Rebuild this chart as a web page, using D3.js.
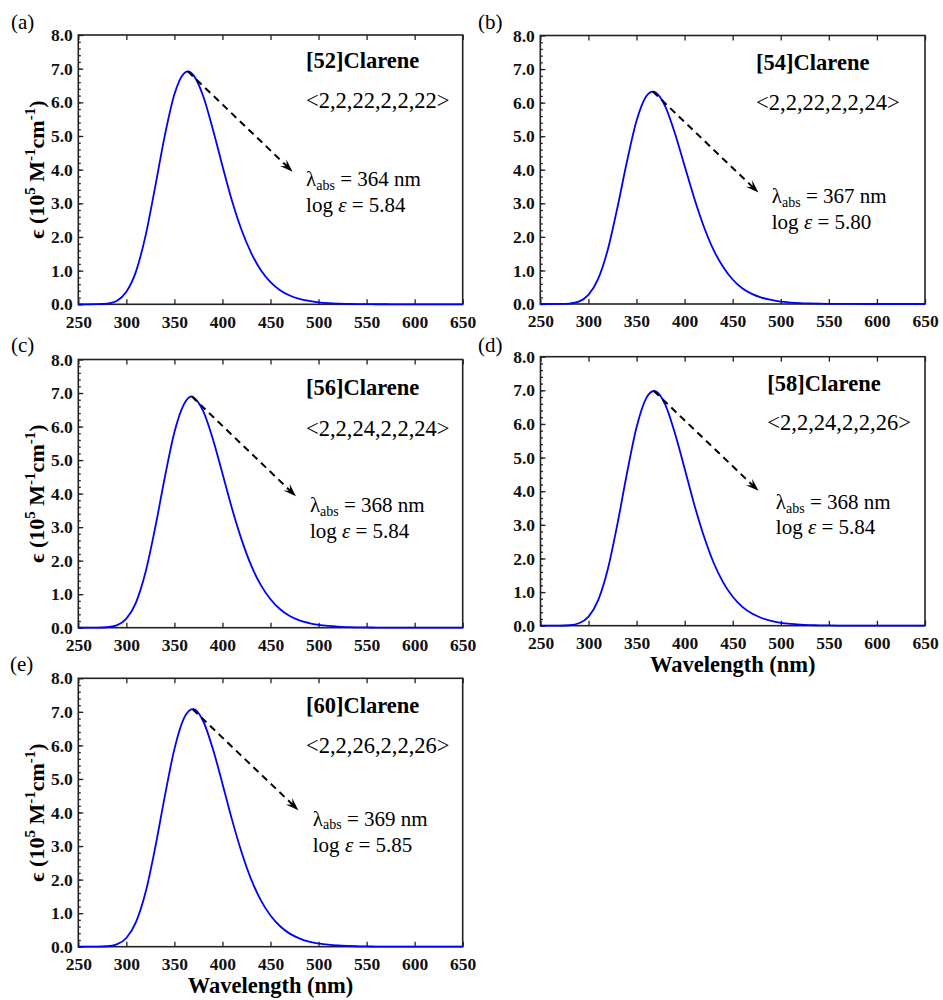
<!DOCTYPE html>
<html>
<head>
<meta charset="utf-8">
<script src="https://cdn.jsdelivr.net/npm/d3@7"></script>
<style>
  body { margin: 0; background: #fff; }
  text { font-family: "Liberation Serif", "Times New Roman", serif; }
</style>
</head>
<body>
<script>
// wavelength grid (nm), shared by all five spectra
var wavelengths = d3.range(250, 651, 10);

// absorption, 10^5 M^-1 cm^-1, one value per wavelength
var eps52 = [0, 0, 0.003, 0.02, 0.10, 0.37, 0.97, 2.04, 3.49, 5.01,
  6.24, 6.86, 6.80, 6.18, 5.20, 4.11, 3.07, 2.20, 1.52, 1.01,
  0.66, 0.42, 0.26, 0.16, 0.10, 0.06, 0.035, 0.02, 0.012, 0.007,
  0.004, 0.002, 0.001, 0, 0, 0, 0, 0, 0, 0, 0];
var eps54 = [0, 0, 0.002, 0.014, 0.07, 0.27, 0.74, 1.60, 2.85, 4.23,
  5.45, 6.18, 6.30, 5.88, 5.08, 4.12, 3.16, 2.31, 1.62, 1.11,
  0.73, 0.47, 0.30, 0.19, 0.12, 0.07, 0.044, 0.026, 0.016, 0.009,
  0.006, 0.003, 0.002, 0.001, 0, 0, 0, 0, 0, 0, 0];
var eps56 = [0, 0, 0.002, 0.014, 0.07, 0.27, 0.75, 1.66, 2.98, 4.48,
  5.83, 6.67, 6.87, 6.46, 5.63, 4.60, 3.55, 2.62, 1.85, 1.27,
  0.85, 0.55, 0.35, 0.22, 0.14, 0.085, 0.052, 0.031, 0.019, 0.011,
  0.007, 0.004, 0.002, 0.001, 0, 0, 0, 0, 0, 0, 0];
var eps58 = [0, 0, 0.002, 0.014, 0.073, 0.27, 0.76, 1.68, 3.02, 4.54,
  5.91, 6.77, 6.97, 6.56, 5.71, 4.67, 3.60, 2.66, 1.88, 1.29,
  0.86, 0.56, 0.36, 0.23, 0.14, 0.086, 0.053, 0.032, 0.019, 0.011,
  0.007, 0.004, 0.002, 0.001, 0, 0, 0, 0, 0, 0, 0];
var eps60 = [0, 0, 0.002, 0.013, 0.07, 0.26, 0.73, 1.62, 2.95, 4.48,
  5.89, 6.81, 7.08, 6.72, 5.90, 4.86, 3.78, 2.81, 2.00, 1.38,
  0.93, 0.61, 0.39, 0.25, 0.15, 0.096, 0.059, 0.036, 0.022, 0.013,
  0.008, 0.005, 0.003, 0.002, 0.001, 0, 0, 0, 0, 0, 0];

var spectra = [eps52, eps54, eps56, eps58, eps60];

// peak of each band
var peakNm = [364, 367, 368, 368, 369];
var peakEps = [6.92, 6.33, 6.90, 6.98, 7.08];

var names = ["[52]Clarene", "[54]Clarene", "[56]Clarene", "[58]Clarene", "[60]Clarene"];
var codes = ["<2,2,22,2,2,22>", "<2,2,22,2,2,24>", "<2,2,24,2,2,24>", "<2,2,24,2,2,26>", "<2,2,26,2,2,26>"];
var logEps = ["5.84", "5.80", "5.84", "5.84", "5.85"];
var tags = ["(a)", "(b)", "(c)", "(d)", "(e)"];

var xTicks = [250, 300, 350, 400, 450, 500, 550, 600, 650];
var yTicks = [0, 1, 2, 3, 4, 5, 6, 7, 8];

// layout: plot boxes in pixels, annotation spots in data units
var frames = [
  {left: 78.3, top: 35, w: 384.4, h: 269.3, tagX: 11, tagY: 29, yTitle: true, xTitle: false},
  {left: 540.3, top: 35.5, w: 384.7, h: 268.5, tagX: 478, tagY: 29, yTitle: false, xTitle: false},
  {left: 78.3, top: 359.5, w: 384.4, h: 268.2, tagX: 11, tagY: 352, yTitle: true, xTitle: false},
  {left: 540.5, top: 356.7, w: 384.5, h: 269, tagX: 478, tagY: 352, yTitle: false, xTitle: true},
  {left: 78.3, top: 678.3, w: 384.4, h: 268.4, tagX: 10, tagY: 671, yTitle: true, xTitle: true}
];
var nameAt = [[487, 7.01], [474.4, 6.96], [487, 6.95], [486, 6.98], [487, 6.96]];
var codeAt = [[487, 5.83], [474.4, 5.77], [487, 5.73], [486, 5.82], [487, 5.76]];
var lamAt = [[487, 3.51], [490.7, 3.00], [491, 3.44], [494.8, 3.46], [494, 3.60]];
var logAt = [[487, 2.75], [490.7, 2.22], [491, 2.67], [494.8, 2.73], [494, 2.83]];
var arrowEnd = [[473, 3.94], [476.8, 3.32], [476.5, 3.92], [476.8, 4.01], [479, 4.07]];

var svg = d3.select("body").append("svg")
    .attr("width", 943)
    .attr("height", 1000);

svg.append("rect").attr("width", 943).attr("height", 1000).attr("fill", "#fff");

var line = d3.line().curve(d3.curveMonotoneX);

frames.forEach(function(f, i) {
  var x = d3.scaleLinear().domain([250, 650]).range([f.left, f.left + f.w]);
  var y = d3.scaleLinear().domain([0, 8]).range([f.top + f.h, f.top]);
  var g = svg.append("g");

  // ticks
  g.append("g")
      .attr("transform", "translate(0," + (f.top + f.h) + ")")
      .call(d3.axisBottom(x).tickValues(xTicks).tickSizeInner(-5).tickSizeOuter(0).tickPadding(11));
  g.append("g")
      .attr("transform", "translate(0," + f.top + ")")
      .call(d3.axisTop(x).tickValues(xTicks).tickSizeInner(-5).tickSizeOuter(0).tickFormat(""));
  g.append("g")
      .attr("transform", "translate(" + f.left + ",0)")
      .call(d3.axisLeft(y).tickValues(d3.range(0, 40).map(function(k) { return k * 0.2; })).tickSizeInner(-2.5).tickSizeOuter(0).tickFormat(""));
  g.append("g")
      .attr("transform", "translate(" + f.left + ",0)")
      .call(d3.axisLeft(y).tickValues(yTicks).tickSizeInner(-5).tickSizeOuter(0).tickPadding(5.5).tickFormat(d3.format(".1f")));

  g.selectAll(".domain").remove();
  g.selectAll(".tick line").attr("stroke", "#222").attr("stroke-width", 1.3);
  g.selectAll(".tick text")
      .attr("fill", "#111")
      .style("font-family", '"Liberation Serif", "Times New Roman", serif')
      .style("font-size", "17.5px")
      .style("font-weight", "bold");

  g.append("rect")
      .attr("x", f.left).attr("y", f.top)
      .attr("width", f.w).attr("height", f.h)
      .attr("fill", "none")
      .attr("stroke", "#222")
      .attr("stroke-width", 1.6);

  // spectrum
  var pts = wavelengths.map(function(w, j) { return [w, spectra[i][j]]; });
  pts.push([peakNm[i], peakEps[i]]);
  pts.sort(function(a, b) { return a[0] - b[0]; });

  g.append("path")
      .attr("d", line(pts.map(function(p) { return [x(p[0]), y(p[1])]; })))
      .attr("fill", "none")
      .attr("stroke", "#0000ff")
      .attr("stroke-width", 1.8);

  // dashed arrow from the peak
  var x0 = x(peakNm[i]), y0 = y(peakEps[i]);
  var x1 = x(arrowEnd[i][0]), y1 = y(arrowEnd[i][1]);
  var ang = Math.atan2(y1 - y0, x1 - x0);
  var back = 13, side = 4.5;
  var bx = x1 - back * Math.cos(ang), by = y1 - back * Math.sin(ang);
  g.append("line")
      .attr("x1", x0).attr("y1", y0)
      .attr("x2", x1 - 7 * Math.cos(ang)).attr("y2", y1 - 7 * Math.sin(ang))
      .attr("stroke", "#000")
      .attr("stroke-width", 2)
      .attr("stroke-dasharray", "7,5");
  g.append("path")
      .attr("d", "M" + x1 + "," + y1 +
        "L" + (bx + side * Math.sin(ang)) + "," + (by - side * Math.cos(ang)) +
        "L" + (x1 - 8 * Math.cos(ang)) + "," + (y1 - 8 * Math.sin(ang)) +
        "L" + (bx - side * Math.sin(ang)) + "," + (by + side * Math.cos(ang)) + "Z")
      .attr("fill", "#000");

  // labels inside the plot
  g.append("text")
      .attr("x", x(nameAt[i][0])).attr("y", y(nameAt[i][1]))
      .style("font-size", "22.5px").style("font-weight", "bold")
      .text(names[i]);
  g.append("text")
      .attr("x", x(codeAt[i][0])).attr("y", y(codeAt[i][1]))
      .style("font-size", "22.5px")
      .text(codes[i]);

  var lam = g.append("text")
      .attr("x", x(lamAt[i][0])).attr("y", y(lamAt[i][1]))
      .style("font-size", "21px");
  lam.append("tspan").text("\u03bb");
  lam.append("tspan").attr("dy", 3.5).style("font-size", "14px").text("abs");
  lam.append("tspan").attr("dy", -3.5).text(" = " + peakNm[i] + " nm");

  var lg = g.append("text")
      .attr("x", x(logAt[i][0])).attr("y", y(logAt[i][1]))
      .style("font-size", "21px");
  lg.append("tspan").text("log ");
  lg.append("tspan").style("font-style", "italic").text("\u03b5");
  lg.append("tspan").text(" = " + logEps[i]);

  svg.append("text")
      .attr("x", f.tagX).attr("y", f.tagY)
      .style("font-size", "21px")
      .text(tags[i]);

  if (f.yTitle) {
    var yt = svg.append("text")
        .attr("transform", "translate(43.5," + (f.top + f.h / 2) + ") rotate(-90)")
        .attr("text-anchor", "middle")
        .style("font-size", "22px").style("font-weight", "bold");
    yt.append("tspan").text("\u03f5 (10");
    yt.append("tspan").attr("dy", -9).style("font-size", "15px").text("5");
    yt.append("tspan").attr("dy", 9).text(" M");
    yt.append("tspan").attr("dy", -9).style("font-size", "15px").text("-1");
    yt.append("tspan").attr("dy", 9).text("cm");
    yt.append("tspan").attr("dy", -9).style("font-size", "15px").text("-1");
    yt.append("tspan").attr("dy", 9).text(")");
  }
  if (f.xTitle) {
    svg.append("text")
        .attr("x", f.left + f.w / 2).attr("y", f.top + f.h + 46.5)
        .attr("text-anchor", "middle")
        .style("font-size", "22.5px").style("font-weight", "bold")
        .text("Wavelength (nm)");
  }
});
</script>
</body>
</html>
